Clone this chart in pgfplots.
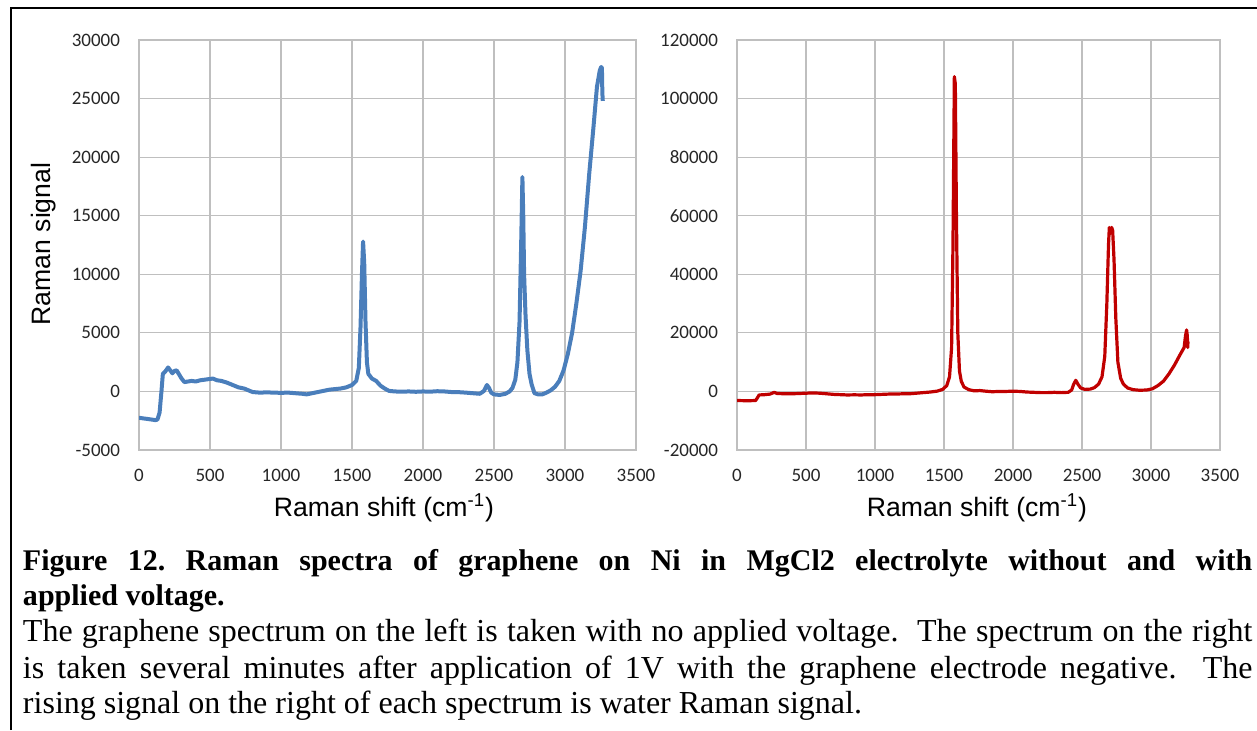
\documentclass[border=0pt]{standalone}
\usepackage{fontspec}
\setmainfont{Liberation Serif}
\newfontfamily\tickfont{Carlito}
\newfontfamily\labelfont{Liberation Sans}
\usepackage{pgfplots}
\pgfplotsset{compat=1.18}
\frenchspacing

\definecolor{exblue}{RGB}{74,126,187}
\definecolor{exred}{RGB}{192,0,0}
\definecolor{gridgray}{RGB}{191,191,191}

\pgfplotsset{ramanstyle/.style={
  scale only axis, height=205pt,
  xmin=0, xmax=3500, xtick={0,500,...,3500},
  xticklabels={0,500,1000,1500,2000,2500,3000,3500},
  grid=major, major grid style={gridgray, line width=0.6pt},
  axis line style={gridgray, line width=0.6pt},
  tick style={draw=none},
  ticklabel style={font=\tickfont\fontsize{9.5}{11}\selectfont, text=black!85},
  scaled ticks=false,
  xticklabel style={yshift=-6pt},
  yticklabel style={xshift=-6pt},
  anchor=south west,
}}

\begin{document}
\begin{tikzpicture}
\path[use as bounding box] (0pt,0pt) rectangle (628.5pt,-365pt);
\draw[line width=1pt] (5.5pt,-365pt) -- (5.5pt,-4pt) -- (628.5pt,-4pt);

% Left: no applied voltage
\begin{axis}[ramanstyle, width=248.5pt, at={(69.5pt,-225pt)},
  ymin=-5000, ymax=30000, ytick={-5000,0,...,30000},
  yticklabels={-5000,0,5000,10000,15000,20000,25000,30000}]
\addplot[exblue, line width=2pt, line join=round] coordinates {
(0,-2250) (30,-2300) (60,-2350) (90,-2400) (115,-2450) (130,-2400) (145,-1800) (158,0)
(168,1500) (185,1700) (205,2050) (220,1800) (235,1550) (250,1750) (265,1800) (280,1500)
(300,1100) (320,800) (345,850) (370,900) (400,850) (430,950) (460,1000) (490,1050)
(520,1100) (550,950) (580,900) (620,750) (660,550) (700,350) (740,250) (770,100)
(800,-50) (850,-100) (900,-80) (950,-100) (1000,-120) (1050,-100) (1100,-150) (1150,-200)
(1180,-250) (1220,-150) (1260,-50) (1300,50) (1340,150) (1380,200) (1420,250) (1460,350)
(1500,550) (1530,900) (1548,2000) (1560,5500) (1570,10000) (1578,12800) (1586,11000)
(1595,6000) (1605,2500) (1615,1500) (1640,1100) (1670,900) (1700,500) (1730,250) (1760,50)
(1800,0) (1850,-20) (1900,0) (1950,-30) (2000,0) (2050,-20) (2100,20) (2150,0) (2200,-50)
(2250,-60) (2300,-100) (2350,-150) (2400,-200) (2430,50) (2450,550) (2465,300) (2480,-100)
(2500,-250) (2540,-300) (2580,-200) (2610,0) (2630,300) (2650,1000) (2665,2500) (2680,6000)
(2692,13000) (2700,18300) (2706,15000) (2712,10000) (2722,6500) (2735,3500) (2750,1500)
(2765,600) (2785,-150) (2810,-250) (2840,-250) (2870,-100) (2900,100) (2930,400) (2960,900)
(2990,1800) (3020,3200) (3050,5000) (3080,7500) (3110,10300) (3140,14000) (3170,18500)
(3200,22500) (3225,26000) (3245,27400) (3255,27700) (3260,27600) (3263,25500) (3266,24800)
};
\end{axis}

% Right: 1V applied
\begin{axis}[ramanstyle, width=241.5pt, at={(368.5pt,-225pt)},
  ymin=-20000, ymax=120000, ytick={-20000,0,...,120000},
  yticklabels={-20000,0,20000,40000,60000,80000,100000,120000}]
\addplot[exred, line width=1.6pt, line join=round] coordinates {
(0,-3100) (50,-3150) (100,-3150) (135,-3100) (150,-2000) (160,-1200) (200,-1100) (240,-900)
(270,-300) (290,-700) (350,-800) (400,-800) (450,-700) (500,-600) (550,-500) (600,-600)
(650,-800) (700,-1000) (750,-1100) (800,-1200) (850,-1150) (900,-1200) (950,-1100)
(1000,-1100) (1050,-1000) (1100,-900) (1150,-900) (1200,-800) (1250,-800) (1300,-600)
(1350,-400) (1400,-200) (1450,100) (1490,700) (1520,2000) (1540,5000) (1555,15000)
(1565,50000) (1575,107500) (1582,105000) (1590,60000) (1600,20000) (1612,7000) (1625,3500)
(1645,1500) (1680,600) (1720,200) (1760,300) (1800,100) (1850,-100) (1900,0) (1950,0)
(2000,100) (2050,0) (2100,-200) (2150,-300) (2200,-400) (2250,-400) (2300,-300) (2350,-400)
(2400,-300) (2425,500) (2440,2500) (2455,3800) (2470,2500) (2490,1200) (2520,700) (2560,800)
(2590,1300) (2620,2500) (2645,5000) (2665,12000) (2680,30000) (2692,50000) (2698,56000)
(2708,54000) (2715,56000) (2722,55000) (2732,45000) (2745,25000) (2760,10000) (2780,4500)
(2800,2500) (2830,1200) (2870,600) (2920,400) (2970,500) (3010,900) (3050,2000) (3090,3500)
(3130,6000) (3170,9000) (3210,12500) (3240,15000) (3250,19000) (3258,21000) (3263,19000)
(3266,15000) (3268,17000)
};
\end{axis}

% axis labels
\node[rotate=90, anchor=base, font=\labelfont\fontsize{13.3}{16}\selectfont] at (25pt,-122pt) {Raman signal};
\node[anchor=base, font=\labelfont\fontsize{13.3}{16}\selectfont] at (192pt,-258.3pt) {Raman shift (cm\textsuperscript{-1})};
\node[anchor=base, font=\labelfont\fontsize{13.3}{16}\selectfont] at (488.5pt,-258.3pt) {Raman shift (cm\textsuperscript{-1})};

% caption
\node[anchor=base west, inner sep=0pt, font=\fontsize{15}{18}\selectfont\bfseries] at (11.3pt,-285pt)
  {\makebox[614.7pt][s]{Figure 12. Raman spectra of graphene on Ni in MgCl2 electrolyte without and with}};
\node[anchor=base west, inner sep=0pt, font=\fontsize{15}{18}\selectfont\bfseries] at (11.3pt,-302.5pt)
  {applied voltage.};
\node[anchor=base west, inner sep=0pt, font=\fontsize{16}{18}\selectfont] at (11.3pt,-320.8pt)
  {\makebox[614.7pt][s]{The graphene spectrum on the left is taken with no applied voltage.\ \ The spectrum on the right}};
\node[anchor=base west, inner sep=0pt, font=\fontsize{16}{18}\selectfont] at (11.3pt,-339pt)
  {\makebox[614.7pt][s]{is taken several minutes after application of 1V with the graphene electrode negative.\ \ The}};
\node[anchor=base west, inner sep=0pt, font=\fontsize{16}{18}\selectfont] at (11.3pt,-356.5pt)
  {rising signal on the right of each spectrum is water Raman signal.};
\end{tikzpicture}
\end{document}
